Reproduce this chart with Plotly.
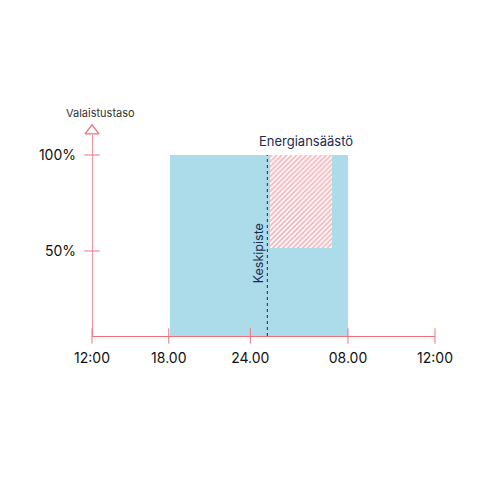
import plotly.graph_objects as go

# Axis positions (custom time scale, positions along x)
tick_pos = [0, 6.0, 12.37, 20.0, 26.8]
tick_labels = ["12:00", "18.00", "24.00", "08.00", "12:00"]
y_ticks = [50, 100]
y_tick_labels = ["50%", "100%"]

# Lighting on (evening to morning)
light_start, light_end = 6.1, 20.0
light_level = 100
# Midpoint
midpoint = 13.7
# Energy saving (dimmed) period
save_start, save_end = 13.9, 18.75
save_low, save_high = 51.5, 100

y_min, y_max = 5.73, 114.6
y_axis_top = 110.4
arrow_y = 112.6
x_min, x_max = 0, 26.8

RED = "#f0707b"
BLUE = "#acdbea"
NAVY = "#1d2b4f"
FONT = "Inter"

fig = go.Figure()

# blue lighting block
fig.add_trace(go.Bar(
    x=[(light_start + light_end) / 2], y=[light_level - y_min], base=[y_min],
    width=[light_end - light_start], marker=dict(color=BLUE, line=dict(width=0)),
    hoverinfo="skip", showlegend=False))

# hatched energy-saving block
fig.add_trace(go.Bar(
    x=[(save_start + save_end) / 2], y=[save_high - save_low], base=[save_low],
    width=[save_end - save_start],
    marker=dict(color="white", line=dict(width=0),
                pattern=dict(shape="/", fgcolor="#f06872", bgcolor="white",
                             size=3.5, solidity=0.5)),
    hoverinfo="skip", showlegend=False))

# midpoint dotted line
fig.add_trace(go.Scatter(
    x=[midpoint, midpoint], y=[y_min, light_level], mode="lines",
    line=dict(color=NAVY, width=1, dash="dot"), hoverinfo="skip", showlegend=False))

# y axis line
fig.add_trace(go.Scatter(
    x=[x_min, x_min], y=[y_min, y_axis_top], mode="lines", cliponaxis=False,
    line=dict(color=RED, width=1.5), hoverinfo="skip", showlegend=False))

# crossing tick marks on x axis
fig.add_trace(go.Scatter(
    x=tick_pos, y=[y_min] * len(tick_pos), mode="markers", cliponaxis=False,
    marker=dict(symbol="line-ns", size=11, line=dict(color=RED, width=1)),
    hoverinfo="skip", showlegend=False))
# crossing tick marks on y axis
fig.add_trace(go.Scatter(
    x=[x_min] * len(y_ticks), y=y_ticks, mode="markers", cliponaxis=False,
    marker=dict(symbol="line-ew", size=11, line=dict(color=RED, width=1)),
    hoverinfo="skip", showlegend=False))
# arrow head on y axis
fig.add_trace(go.Scatter(
    x=[x_min], y=[arrow_y], mode="markers", cliponaxis=False,
    marker=dict(symbol="triangle-up-open", size=12, color=RED, line=dict(color=RED, width=1.3)),
    hoverinfo="skip", showlegend=False))

fig.add_annotation(x=midpoint - 0.62, y=49, text="Keskipiste", textangle=-90,
                   showarrow=False, font=dict(family=FONT, size=12.5, color=NAVY))
fig.add_annotation(x=16.7, y=107.4, text="Energiansäästö",
                   showarrow=False, font=dict(family=FONT, size=13, color=NAVY))
fig.add_annotation(xref="paper", yref="paper", x=0.026, y=1.067, text="Valaistustaso",
                   xanchor="center", yanchor="middle",
                   showarrow=False, font=dict(family=FONT, size=11, color="#333333"))

fig.update_layout(
    width=480, height=480,
    margin=dict(l=84, r=52.7, t=119, b=152, autoexpand=False),
    paper_bgcolor="white", plot_bgcolor="white",
    barmode="overlay", bargap=0,
    font=dict(family=FONT, size=14, color="#111111"),
    xaxis=dict(range=[x_min, x_max], tickvals=tick_pos, ticktext=tick_labels,
               showgrid=False, zeroline=False, showline=True, linecolor=RED,
               linewidth=1.3, ticks="", ticklabelstandoff=9, automargin=False,
               tickfont=dict(family=FONT, size=14, color="#111111")),
    yaxis=dict(range=[y_min, y_max], tickvals=y_ticks, ticktext=y_tick_labels,
               showgrid=False, zeroline=False, showline=False,
               ticks="", ticklabelstandoff=15, automargin=False,
               tickfont=dict(family=FONT, size=14, color="#111111")),
)

fig.write_html("out.html")
